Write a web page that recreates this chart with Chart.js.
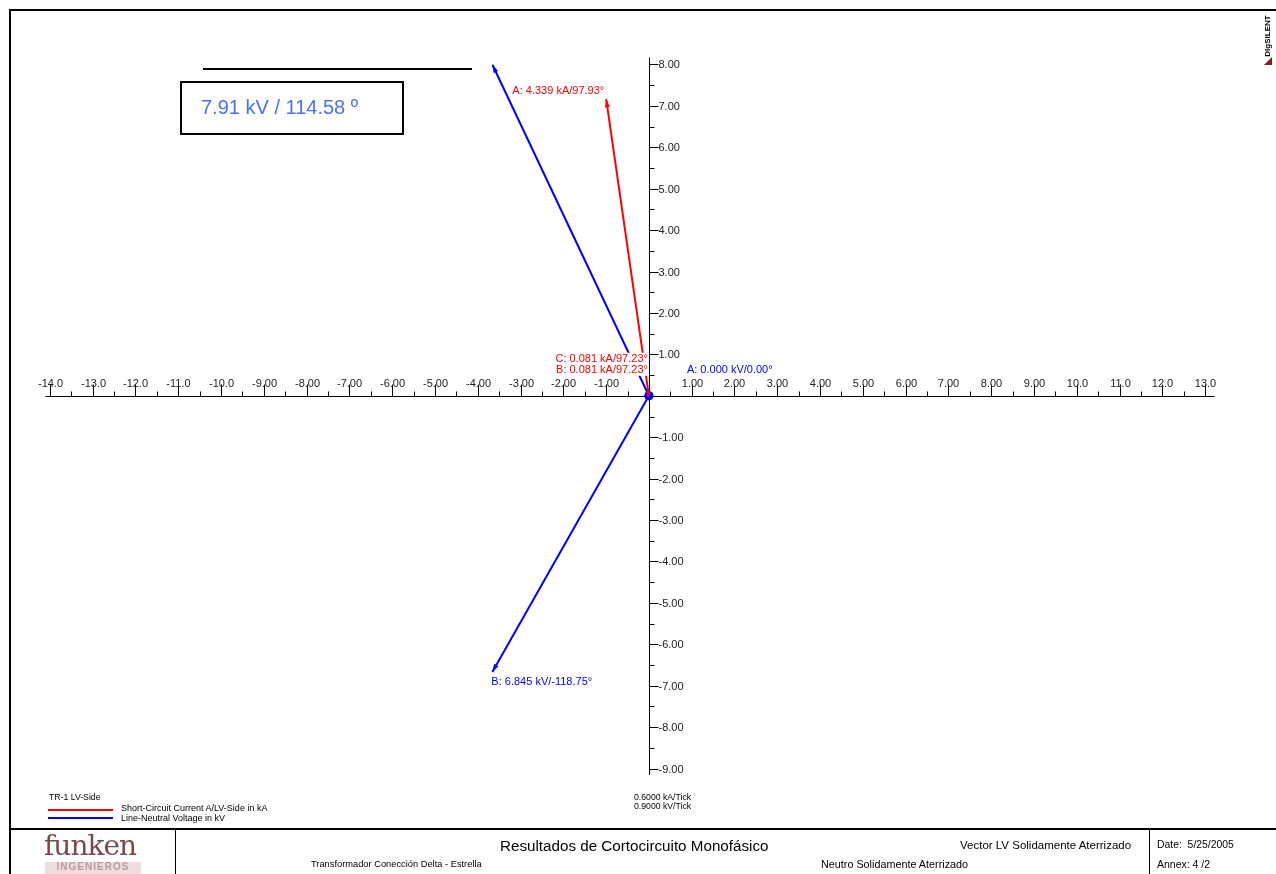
<!DOCTYPE html>
<html><head><meta charset="utf-8">
<script src="https://cdn.jsdelivr.net/npm/chart.js@4.4.1/dist/chart.umd.min.js"></script>
<style>
body{margin:0;background:#fff;font-family:"Liberation Sans",Arial,sans-serif;}
#wrap{position:relative;width:1276px;height:874px;overflow:hidden;background:#fff;}
#c{position:absolute;left:0;top:0;}
.abs{position:absolute;white-space:nowrap;line-height:1;}
</style></head><body>
<div id="wrap">
<canvas id="c" width="1276" height="874"></canvas>
<!-- frame -->
<div class="abs" style="left:9px;top:9px;width:1290px;height:900px;border-top:2px solid #000;border-left:2px solid #000;"></div>
<div class="abs" style="left:9px;top:828px;width:1290px;height:0;border-top:2px solid #000;"></div>
<div class="abs" style="left:175px;top:829px;width:0;height:50px;border-left:1px solid #000;"></div>
<div class="abs" style="left:1149px;top:829px;width:0;height:50px;border-left:1px solid #000;"></div>
<!-- DIgSILENT mark -->
<div class="abs" style="left:1243px;top:32px;font-size:8px;font-weight:bold;transform:rotate(-90deg);transform-origin:center;width:50px;text-align:center;">DIgSILENT</div>
<div class="abs" style="left:1264px;top:57px;width:0;height:0;border-left:8px solid transparent;border-bottom:8px solid #8b1a1a;"></div>
<!-- annotation -->
<div class="abs" style="left:203px;top:68px;width:269px;height:0;border-top:2px solid #000;"></div>
<div class="abs" id="vbox" style="left:180px;top:81px;width:220px;height:50px;border:2px solid #000;"></div>
<div class="abs" id="vboxText" style="left:201px;top:97px;font-size:20px;color:#4a70f5;"></div>
<!-- legend -->
<div class="abs" style="left:49px;top:793px;font-size:8.7px;">TR-1 LV-Side</div>
<div class="abs" style="left:48px;top:809px;width:65px;height:2px;background:#ff0000;"></div>
<div class="abs" style="left:121px;top:804px;font-size:9px;">Short-Circuit Current A/LV-Side in kA</div>
<div class="abs" style="left:48px;top:817px;width:65px;height:2px;background:#0000ff;"></div>
<div class="abs" style="left:121px;top:814px;font-size:9px;">Line-Neutral Voltage in kV</div>
<div class="abs" style="left:634px;top:793px;font-size:8.7px;" id="kaTick"></div>
<div class="abs" style="left:634px;top:802px;font-size:8.7px;" id="kvTick"></div>
<!-- footer -->
<div class="abs" style="left:44px;top:832px;font-size:28px;font-family:'DejaVu Serif','Liberation Serif',serif;color:#7a4a4a;letter-spacing:-1px;">funken</div>
<div class="abs" style="left:45px;top:862px;width:96px;height:12px;background:#efdede;font-size:10px;color:#c09a9a;text-align:center;letter-spacing:1px;font-weight:bold;">INGENIEROS</div>
<div class="abs" style="left:500px;top:838px;font-size:15.2px;">Resultados de Cortocircuito Monofásico</div>
<div class="abs" style="left:311px;top:860px;font-size:9.3px;">Transformador Conección Delta - Estrella</div>
<div class="abs" style="left:960px;top:840px;font-size:11.5px;transform-origin:left;">Vector LV Solidamente Aterrizado</div>
<div class="abs" style="left:821px;top:859px;font-size:10.8px;">Neutro Solidamente Aterrizado</div>
<div class="abs" style="left:1157px;top:840px;font-size:10.4px;">Date:&nbsp; 5/25/2005</div>
<div class="abs" style="left:1157px;top:859px;font-size:10.5px;">Annex: 4 /2</div>
</div>
<script>
// ---------------- data ----------------
const phaseNames = ['A', 'B', 'C'];
const currentMag = [4.339, 0.081, 0.081];     // kA
const currentAng = [97.93, 97.23, 97.23];      // deg
const voltageMag = [0.000, 6.845, 7.91];       // kV
const voltageAng = [0.00, -118.75, 114.58];    // deg
const kAPerTick = 0.6;
const kVPerTick = 0.9;
const xTickValues = [-14,-13,-12,-11,-10,-9,-8,-7,-6,-5,-4,-3,-2,-1,1,2,3,4,5,6,7,8,9,10,11,12,13];
const xTickLabels = ['-14.0','-13.0','-12.0','-11.0','-10.0','-9.00','-8.00','-7.00','-6.00','-5.00','-4.00','-3.00','-2.00','-1.00','1.00','2.00','3.00','4.00','5.00','6.00','7.00','8.00','9.00','10.0','11.0','12.0','13.0'];
const yTickValues = [8,7,6,5,4,3,2,1,-1,-2,-3,-4,-5,-6,-7,-8,-9];
const yTickLabels = ['8.00','7.00','6.00','5.00','4.00','3.00','2.00','1.00','-1.00','-2.00','-3.00','-4.00','-5.00','-6.00','-7.00','-8.00','-9.00'];
const xAxisExtent = [-14.1, 13.22];
const yAxisExtent = [-9.15, 8.17];

document.getElementById('kaTick').textContent = kAPerTick.toFixed(4) + ' kA/Tick';
document.getElementById('kvTick').textContent = kVPerTick.toFixed(4) + ' kV/Tick';
document.getElementById('vboxText').textContent = voltageMag[2].toFixed(2) + ' kV / ' + voltageAng[2].toFixed(2) + ' º';

function tip(mag, ang, perTick){
  const r = mag / perTick, a = ang * Math.PI / 180;
  return {x: r * Math.cos(a), y: r * Math.sin(a)};
}

// label placement (style)
const currentLabelPos = [
  {anchor:'tip', dx:-2, dy:-8, align:'right'},
  {anchor:'origin', dx:-1, dy:-26, align:'right'},
  {anchor:'origin', dx:-1, dy:-37, align:'right'}
];
const voltageLabelPos = [
  {anchor:'origin', dx:38, dy:-26, align:'left'},
  {anchor:'tip', dx:-1, dy:10, align:'left'},
  null
];

const datasets = [];
phaseNames.forEach((p,i)=>{
  datasets.push({
    label:'I'+p, kind:'I', idx:i,
    data:[{x:0,y:0}, tip(currentMag[i], currentAng[i], kAPerTick)],
    borderColor:'#ff0000', backgroundColor:'#ff0000', borderWidth:2,
    showLine:true, pointRadius:0, text: p + ': ' + currentMag[i].toFixed(3) + ' kA/' + currentAng[i].toFixed(2) + '°'
  });
});
phaseNames.forEach((p,i)=>{
  datasets.push({
    label:'V'+p, kind:'V', idx:i,
    data:[{x:0,y:0}, tip(voltageMag[i], voltageAng[i], kVPerTick)],
    borderColor:'#0000ff', backgroundColor:'#0000ff', borderWidth:2,
    showLine:true, pointRadius: voltageMag[i] === 0 ? 4.5 : 0, pointBorderWidth:0,
    text: p + ': ' + voltageMag[i].toFixed(3) + ' kV/' + voltageAng[i].toFixed(2) + '°'
  });
});

const LABEL_FONT = '11px "Liberation Sans", Arial, sans-serif';

const axesPlugin = {
  id:'phasorAxes',
  beforeDatasetsDraw(chart){
    const {ctx} = chart; const x = chart.scales.x, y = chart.scales.y;
    const x0 = Math.round(x.getPixelForValue(0)) + 0.5, y0 = Math.round(y.getPixelForValue(0)) + 0.5;
    ctx.save();
    ctx.strokeStyle = '#000'; ctx.lineWidth = 1;
    ctx.beginPath();
    ctx.moveTo(x.getPixelForValue(xAxisExtent[0]), y0); ctx.lineTo(x.getPixelForValue(xAxisExtent[1]), y0);
    ctx.moveTo(x0, y.getPixelForValue(yAxisExtent[1])); ctx.lineTo(x0, y.getPixelForValue(yAxisExtent[0]));
    for (let v = Math.ceil(xAxisExtent[0]*2)/2; v <= xAxisExtent[1]; v += 0.5){
      if (v === 0) continue;
      const px = Math.round(x.getPixelForValue(v)) + 0.5;
      const len = Number.isInteger(v) ? 12 : 5;
      ctx.moveTo(px, y0); ctx.lineTo(px, y0 - len);
    }
    for (let v = Math.ceil(yAxisExtent[0]*2)/2; v <= yAxisExtent[1]; v += 0.5){
      if (v === 0) continue;
      const py = Math.round(y.getPixelForValue(v)) + 0.5;
      const len = Number.isInteger(v) ? 9 : 5;
      ctx.moveTo(x0, py); ctx.lineTo(x0 + len, py);
    }
    ctx.stroke();
    ctx.fillStyle = '#222';
    ctx.font = LABEL_FONT;
    ctx.textAlign = 'center'; ctx.textBaseline = 'middle';
    xTickValues.forEach((v,i)=>{
      ctx.fillText(xTickLabels[i], Math.round(x.getPixelForValue(v)) + 0.5, y0 - 13);
    });
    ctx.textAlign = 'left';
    yTickValues.forEach((v,i)=>{
      ctx.fillText(yTickLabels[i], x0 + 9, Math.round(y.getPixelForValue(v)) + 0.5);
    });
    ctx.restore();
  },
  afterDatasetsDraw(chart){
    const {ctx} = chart;
    ctx.save();
    chart.data.datasets.forEach((ds, di)=>{
      const meta = chart.getDatasetMeta(di);
      const p0 = meta.data[0], p1 = meta.data[1];
      const dx = p1.x - p0.x, dy = p1.y - p0.y, L = Math.hypot(dx, dy);
      if (L > 12){
        const ux = dx/L, uy = dy/L, nx = -uy, ny = ux;
        const hl = 8, hw = 2.5;
        ctx.fillStyle = ds.borderColor;
        ctx.beginPath();
        ctx.moveTo(p1.x, p1.y);
        ctx.lineTo(p1.x - ux*hl + nx*hw, p1.y - uy*hl + ny*hw);
        ctx.lineTo(p1.x - ux*hl - nx*hw, p1.y - uy*hl - ny*hw);
        ctx.closePath(); ctx.fill();
      }
    });
    ctx.font = LABEL_FONT;
    ctx.textBaseline = 'middle';
    chart.data.datasets.forEach((ds, di)=>{
      const pos = ds.kind === 'I' ? currentLabelPos[ds.idx] : voltageLabelPos[ds.idx];
      if (!pos) return;
      const meta = chart.getDatasetMeta(di);
      const a = pos.anchor === 'tip' ? meta.data[1] : meta.data[0];
      const tx = a.x + pos.dx, ty = a.y + pos.dy;
      const w = ctx.measureText(ds.text).width;
      const left = pos.align === 'right' ? tx - w : tx;
      ctx.fillStyle = '#fff';
      ctx.fillRect(left - 1, ty - 6, w + 2, 12);
      ctx.fillStyle = ds.borderColor;
      ctx.textAlign = pos.align;
      ctx.fillText(ds.text, tx, ty);
    });
    ctx.restore();
  }
};

new Chart(document.getElementById('c'), {
  type:'scatter',
  data:{datasets},
  options:{
    responsive:false, animation:false, devicePixelRatio:1,
    layout:{padding:{left:7, right:28, top:23, bottom:64}},
    plugins:{legend:{display:false}, tooltip:{enabled:false}},
    scales:{
      x:{type:'linear', min:-15, max:14, display:false},
      y:{type:'linear', min:-10, max:9, display:false}
    }
  },
  plugins:[axesPlugin]
});
</script>
</body></html>
